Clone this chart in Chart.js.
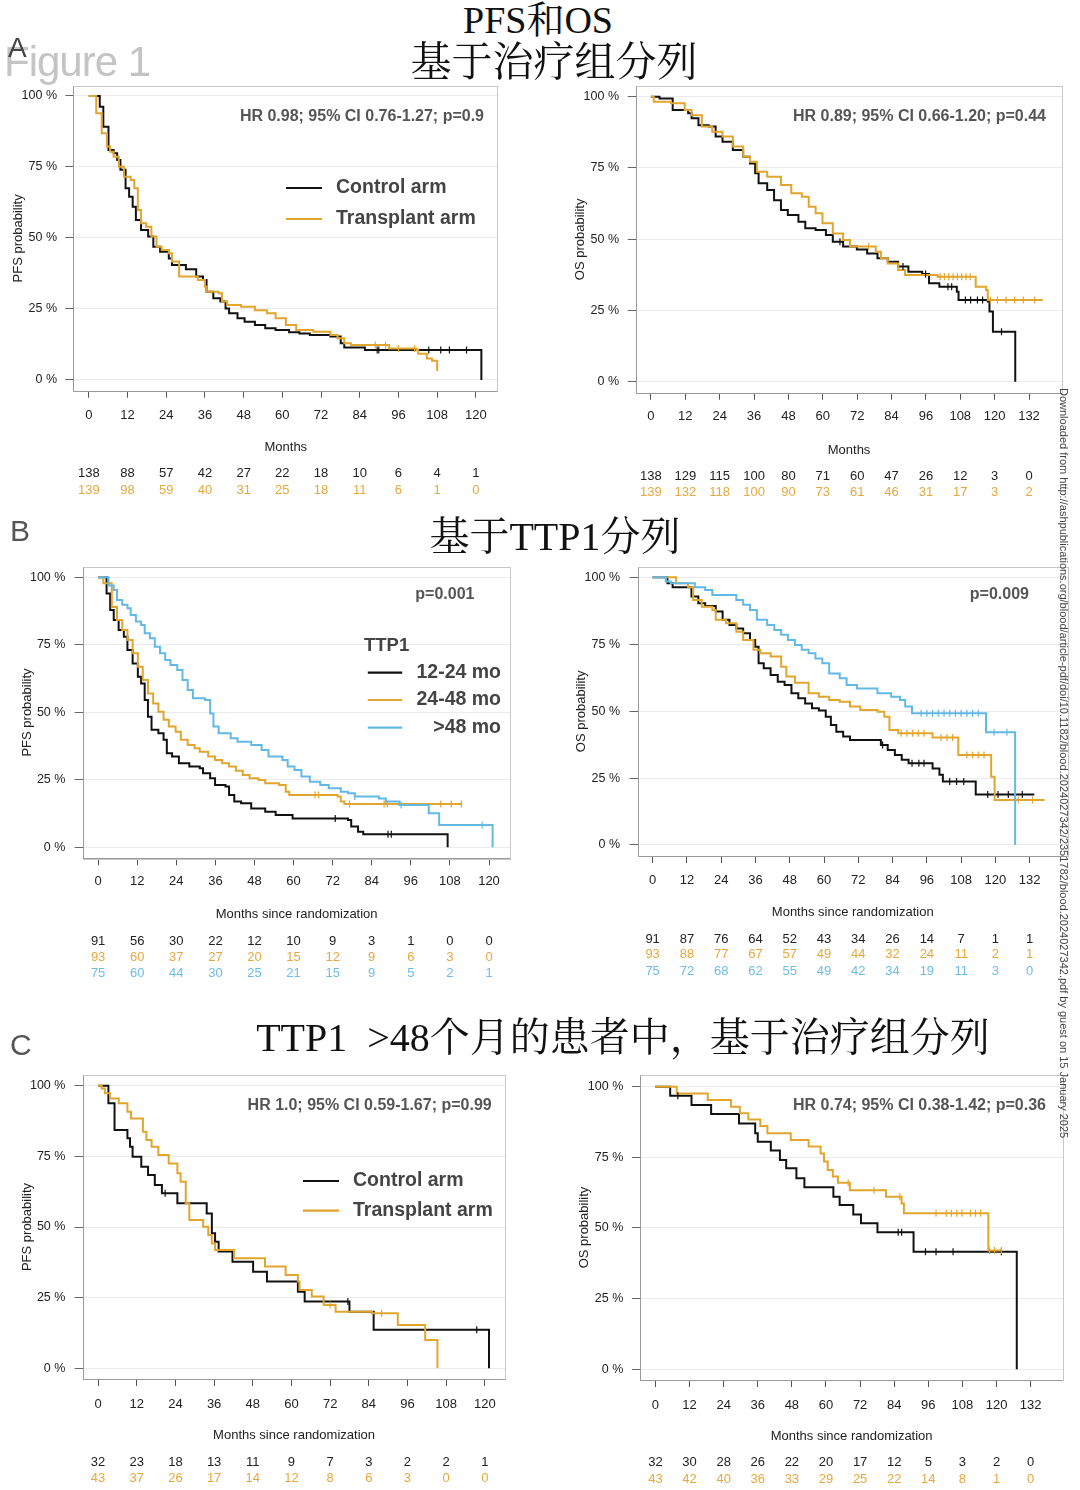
<!DOCTYPE html>
<html><head><meta charset="utf-8">
<script src="https://cdn.jsdelivr.net/npm/chart.js@4.4.1/dist/chart.umd.min.js"></script>
<style>
html,body{margin:0;padding:0;background:#fff;}
body{width:1080px;height:1490px;position:relative;overflow:hidden;font-family:"Liberation Sans",Arial,sans-serif;}
canvas{position:absolute;}
.t{position:absolute;white-space:nowrap;color:#111;line-height:1;transform:translate(-50%,-50%);font-family:"Liberation Serif","Noto Serif CJK SC","Noto Sans CJK SC",serif;z-index:5;}
.lab{position:absolute;white-space:nowrap;line-height:1;transform:translate(0,-50%);font-family:"Liberation Sans",Arial,sans-serif;z-index:5;}
#dl{position:absolute;left:1058px;top:388px;writing-mode:vertical-rl;font-size:11px;color:#444;white-space:nowrap;font-family:"Liberation Sans",Arial,sans-serif;z-index:6;}
</style></head><body>
<div class="lab" style="left:4px;top:61.5px;font-size:42px;color:#c4c4c4;letter-spacing:-1px;">Figure 1</div>
<div class="lab" style="left:8px;top:48px;font-size:28px;color:#444;">A</div>
<div class="lab" style="left:10px;top:531px;font-size:30px;color:#555;">B</div>
<div class="lab" style="left:10px;top:1045px;font-size:30px;color:#555;">C</div>
<div class="t" style="left:538px;top:20px;font-size:38px;">PFS和OS</div>
<div class="t" style="left:554px;top:62px;font-size:41px;">基于治疗组分列</div>
<div class="t" style="left:555px;top:537px;font-size:40px;">基于TTP1分列</div>
<div class="t" style="left:623px;top:1038px;font-size:40px;">TTP1&nbsp;&nbsp;&gt;48个月的患者中，基于治疗组分列</div>
<div id="dl">Downloaded from http://ashpublications.org/blood/article-pdf/doi/10.1182/blood.2024027342/2351782/blood.2024027342.pdf by guest on 15 January 2025</div>
<script>
// ---------- tick labels ----------
const X_TICKS_120 = [0,12,24,36,48,60,72,84,96,108,120];
const X_TICKS_132 = [0,12,24,36,48,60,72,84,96,108,120,132];
const Y_TICKS = [0,25,50,75,100];

// ---------- Panel A: PFS by arm ----------
const A_pfs_t_ctrl = [0,3.4,4.5,6.1,7.7,8.8,9.8,11.4,12.5,13.6,14.6,16.2,18.4,20,22.1,24.8,25.8,30.1,33.3,35.4,36.5,38.6,40.8,42.4,43.5,46.1,48.3,51.5,54.7,57.9,62.1,65.3,68.5,74.9,78.1,79.2,85.6,121.7];
const A_pfs_s_ctrl = [100,96.2,89.2,81,79.8,77.5,74,67.5,64.5,61,56.3,52.8,50.5,46.9,45.2,42.8,40.5,39,36.4,35.2,31.1,28.8,27.6,25.2,23.5,21.7,20.5,19.4,18.2,17.6,16.8,16.4,15.8,15.3,12.9,11.4,10.6,0];
const A_pfs_c_ctrl = [89.4,89.9,105.4,109.1,111.8,117.1];
const A_pfs_t_tx = [0,2.3,4,5.6,6.6,7.7,9.3,10.9,13,14.1,15.2,16.2,17.8,19.4,21,22.6,24.8,25.8,28,33.8,36,36.5,40.2,41.3,42.9,47.2,51.5,55.2,57.9,61.1,64.3,69.6,74.9,77.1,79.2,81.3,93.1,101.6,102.1,104.8,106.4,108,108.3];
const A_pfs_s_tx = [100,93.9,86.9,82.2,80.4,78.6,75.1,71.6,70.4,67.5,59.9,55.2,54,50.5,46.9,45.8,44.6,41.7,36.4,35.2,32.9,31.1,30.5,27.6,26.4,25.8,24.6,23.5,21.7,19.4,17.6,17,15.8,14.7,12.9,12.3,11.1,10.6,9.2,7.6,6.8,3.5,3.5];
const A_pfs_c_tx = [88.8,92,96,101];
const A_pfs_risk_ctrl = [138,88,57,42,27,22,18,10,6,4,1];
const A_pfs_risk_tx = [139,98,59,40,31,25,18,11,6,1,0];

// ---------- Panel A: OS by arm ----------
const A_os_t_ctrl = [0,3,7.6,13,14.2,16.6,20.2,22.6,25,28.6,32.2,34.6,36.4,37.6,40.6,43,45.4,47.8,51.5,53.9,57.5,61.1,63.5,67.1,71.9,75.5,79.1,82.7,86.3,89.9,94.7,97.1,100.7,106.8,107.4,117.6,118.2,119.4,127.2];
const A_os_s_ctrl = [100,99.4,95.3,94.2,92.4,90,89.5,86,84.2,81.3,78.9,76.6,73.1,69.6,67.3,63.7,60.2,58.5,56.1,53.8,53.2,51.5,49.1,47.4,46.4,45,43.3,42.1,40.4,38.6,37.8,34.5,33.3,31.6,28.7,28.1,24.6,17.5,0];
const A_os_c_ctrl = [66,88,95.9,103.7,105,109.8,111.6,114,115.8,122.4];
const A_os_t_tx = [0,1,7,11.8,14.2,17.8,21.4,25,28.6,32.2,34.6,37,40.6,45.4,49,52.7,55.1,57.5,59.9,63.5,67.1,69.5,78.5,80.3,82.7,86.3,88.7,100.1,113.4,117,117.6,136.8];
const A_os_s_tx = [100,98.2,97.7,95.3,93.5,89.5,87.7,86,82.5,78.9,77.2,73.7,71.9,69,66.1,64.9,61.4,59.1,55.6,52,49.7,47.4,45.6,43.3,41.5,39.2,37.4,36.8,33.3,32.2,28.7,28.7];
const A_os_c_tx = [76,101,102.5,104,105.5,107,108.5,110,111.5,118.5,121,124,127,130,134];
const A_os_risk_ctrl = [138,129,115,100,80,71,60,47,26,12,3,0];
const A_os_risk_tx = [139,132,118,100,90,73,61,46,31,17,3,2];

// ---------- Panel B: PFS by TTP1 ----------
const B_pfs_t_1224 = [0,2.6,3.7,4.8,6.3,7.9,9,10.6,12.2,13.2,14.3,15.3,16.4,18.5,20.1,21.1,22.7,24.8,28,31.2,32.2,34.4,35.9,39.1,40.2,41.8,43.9,47,51.3,54.5,59.7,76.7,77.7,79.8,81.4,107.3];
const B_pfs_s_1224 = [100,94,87.9,84.2,80.5,78,73.1,68.1,63.2,60.7,54.6,48.4,43.5,42.2,39.8,34.8,33.6,31.1,29.9,29.3,27.4,25.6,23.1,22.5,19.4,17,16.3,14.4,13.2,12,10.7,10.1,7.7,5.8,4.8,0];
const B_pfs_c_1224 = [72.8,89,90];
const B_pfs_t_2448 = [0,1.6,4.2,5.8,7.4,9,10.6,12.2,13.7,15.3,16.9,18.5,20.1,21.7,23.8,25.4,27.5,29.6,31.2,33.8,35.9,38.1,40.2,42.3,44.4,46.5,49.2,51.3,55.5,57.6,58.7,73.5,74.5,75.6,111.5];
const B_pfs_s_2448 = [100,97.8,89,84.2,80.5,76.8,71.9,66.9,62,57,53.3,50.2,47.2,44.7,42.8,39.8,37.9,36.7,35.4,33.6,32.3,31.1,29.9,28.4,26.8,25.6,24.9,23.7,23.1,20.6,19.4,18.8,17,16,16];
const B_pfs_c_2448 = [66.6,67.7,77.2,87.8,88.8,105.2,108.4,111.5];
const B_pfs_t_48 = [0,3.2,4.8,5.8,7.4,9,10,11.6,13.2,14.3,15.9,17.4,19,20.6,22.2,24.3,25.9,27.5,29.1,32.8,34.4,35.4,37,40.7,42.8,47,50.2,52.3,56.6,58.2,60.3,62.4,65,68.2,70.8,74.5,76.7,78.8,86.2,88.3,92.5,101.5,104.7,121.1];
const B_pfs_s_48 = [100,97,95.3,91.6,89.8,88.5,86,83.6,82.3,79.3,77.4,74.3,71.9,69.4,67.5,65.7,62,58.3,55.2,54.6,49.6,44.7,42.2,40.4,39.1,37.9,36,33.6,32.3,29.9,28.6,26.2,24.3,23.1,21.9,20.6,20,18.8,18.1,17,15.7,12.6,8.3,0];
const B_pfs_c_48 = [78.8,88.3,93,117.9];
const B_pfs_risk_1224 = [91,56,30,22,12,10,9,3,1,0,0];
const B_pfs_risk_2448 = [93,60,37,27,20,15,12,9,6,3,0];
const B_pfs_risk_48 = [75,60,44,30,25,21,15,9,5,2,1];

// ---------- Panel B: OS by TTP1 ----------
const B_os_t_1224 = [0,5.2,7,13.6,16,18.4,22.1,24.5,26.9,29.3,31.7,34.1,35.9,37.1,38.9,41.3,43.8,46.2,48.6,51,53.4,55.8,58.2,60.6,62.4,64.3,66.7,69.1,79.9,82.3,84.8,87.2,89.6,98,100.4,101.6,113.1,133.6];
const B_os_s_1224 = [100,97.8,96.3,92.8,90.3,89.3,87.2,84.1,82.2,80.9,79.1,76.6,74.1,67.9,66,63.5,61,59.8,56.7,54.8,52.9,51.1,50.2,47.9,44.8,42.3,40.5,39.2,37.4,35.5,33.6,31.8,30.5,28.6,26.2,23.7,18.9,18.9];
const B_os_c_1224 = [80.5,90.8,93.2,95,104,106.4,108.9,117.3,120.9,124.5,129.4];
const B_os_t_2448 = [0,8.2,12.4,14.2,17.2,20.9,22.1,25.7,29.3,31.7,35.3,37.7,41.3,45,46.8,49.8,54.6,58.2,61.8,65.5,69.1,72.7,78.7,81.1,82.9,86,98,107,118.5,119.7,137.2];
const B_os_s_2448 = [100,97.8,96.3,91.5,89,87.8,84.1,82.8,79.7,76.6,72.9,71.6,70.4,66.6,62.9,60.6,56.7,55.4,54.2,53.5,51.7,50.4,49.8,47.9,43,41.7,40.2,33.6,25.5,16.8,16.8];
const B_os_c_2448 = [87,89,91,93,95,101,103,105,110,112,114,116,128,133];
const B_os_t_48 = [0,4.6,6.4,14.8,18.4,20.9,29.3,31.7,34.1,36.5,40.1,42.6,45,47.4,49.8,52.2,54.6,57,59.4,61.8,65.5,67.9,71.5,78.7,83.5,86.6,88.4,90.8,116.7,126.9];
const B_os_s_48 = [100,98.4,97.8,96.3,95.3,93.4,91.5,89.7,87.8,84.1,82.2,80.3,78.5,76.6,74.7,72.9,71.6,69.7,67.9,64.1,62.3,59.8,58.5,56.7,55.4,54.2,51.7,49.2,42.1,0];
const B_os_c_48 = [94,96,98,100,102,104,106,108,110,112,114,119.5,124];
const B_os_risk_1224 = [91,87,76,64,52,43,34,26,14,7,1,1];
const B_os_risk_2448 = [93,88,77,67,57,49,44,32,24,11,2,1];
const B_os_risk_48 = [75,72,68,62,55,49,42,34,19,11,3,0];

// ---------- Panel C: TTP1 >48 mo, by arm ----------
const C_pfs_t_ctrl = [0,3.2,5.1,9.1,9.9,10.7,13.4,15.5,17.6,19.8,24.6,33.7,35.3,36.3,37.4,41.7,48.1,52.4,62,64.1,78,85.5,121.3];
const C_pfs_s_ctrl = [100,93.8,84.3,81.4,78.4,74.9,71.3,68.4,64.9,61.9,58.4,54.8,47.8,44.8,41.3,37.7,34.2,30.7,27.1,23.6,20,13.6,0];
const C_pfs_c_ctrl = [20.8,77.5,117.5];
const C_pfs_t_tx = [0,1.1,2.1,3.7,6.4,9.1,10.2,13.9,15,16.6,18.7,21.9,24.6,25.6,27.2,28.3,32.6,34.2,35.3,36.3,42.2,51.8,58.2,62,62.5,66.3,70,73.7,85,93,101.5,105.3];
const C_pfs_s_tx = [100,99,97.3,95.5,93.8,90.8,88.4,83.7,80.8,78.4,75.5,72.5,69,66,58.4,52.5,50.1,47.2,44.2,41.9,38.9,36,33,30.7,27.7,25.4,22.4,20,19.5,15.3,10,0];
const C_pfs_c_tx = [72,88];
const C_pfs_risk_ctrl = [32,23,18,13,11,9,7,3,2,2,1];
const C_pfs_risk_tx = [43,37,26,17,14,12,8,6,3,0,0];

const C_os_t_ctrl = [0,5.2,12.7,19.6,29.4,35.1,36,40.6,43.8,46,49.6,52.4,62.6,64.8,69.6,72.3,78.1,90.8,127.1];
const C_os_s_ctrl = [100,96.8,93.5,90.3,87,83.5,80.5,77.4,74.1,71.1,67.6,64.4,61.1,58.1,54.8,51.7,48.5,41.6,0];
const C_os_c_ctrl = [7.9,85.4,86.6,95,98.7,104.7,121.7];
const C_os_t_tx = [0,7.5,18.4,26.6,29.7,32.7,36.9,39.4,47.6,53.9,58.1,59.3,60.6,62.4,64.2,68.4,81.1,86.6,87.4,117.1,121.7];
const C_os_s_tx = [100,97.6,95.3,92.9,90.6,88.4,86.1,83.5,81.1,78.8,76.4,73.5,70.5,68.2,66,63.4,61.1,58.7,55.2,42,42];
const C_os_c_tx = [67.8,76.9,86,98.7,102.3,104.1,106,107.8,110.8,112.6,114.4,117.5,119.3,121.7];
const C_os_risk_ctrl = [32,30,28,26,22,20,17,12,5,3,2,0];
const C_os_risk_tx = [43,42,40,36,33,29,25,22,14,8,1,0];

// ---------- styling ----------
const BLACK = '#111111', ORANGE = '#E2A52E', BLUE = '#63B9E6';
const RISK_BLACK = '#222222', RISK_ORANGE = '#E6A83E', RISK_BLUE = '#6DBCE6';
const FONT = '"Liberation Sans", Arial, Helvetica, sans-serif';
Chart.defaults.font.family = FONT;
Chart.defaults.animation = false;

function stepAt(t, ts, ss) {
  let v = ss[0];
  for (let i = 0; i < ts.length; i++) { if (ts[i] <= t) v = ss[i]; else break; }
  return v;
}

function makeKM(p) {
  const cv = document.createElement('canvas');
  cv.width = p.cw; cv.height = p.ch;
  cv.style.left = p.cx + 'px'; cv.style.top = p.cy + 'px';
  cv.style.width = p.cw + 'px'; cv.style.height = p.ch + 'px';
  document.body.appendChild(cv);
  const f = p.frame;
  const xBottom = p.xTitleY + 7.8;
  const datasets = [];
  p.series.forEach(s => {
    if (s.c && s.c.length) {
      datasets.push({
        data: s.c.map(x => ({x: x, y: stepAt(x, s.t, s.s)})),
        showLine: false, pointStyle: 'line', pointRotation: 90, pointRadius: 3.5,
        pointBorderColor: s.color, pointBackgroundColor: s.color, pointBorderWidth: 1.2,
        pointHoverRadius: 0
      });
    }
  });
  p.series.forEach(s => {
    datasets.push({
      data: s.t.map((x, i) => ({x: x, y: s.s[i]})),
      showLine: true, stepped: 'before', borderColor: s.color, borderWidth: 2,
      pointRadius: 0, pointHoverRadius: 0, fill: false, tension: 0
    });
  });
  const plug = {
    id: 'km',
    beforeDatasetsDraw(chart) {
      const {ctx, chartArea: a} = chart;
      ctx.save();
      ctx.strokeStyle = '#c8c8c8'; ctx.lineWidth = 1;
      ctx.strokeRect(Math.round(a.left) + 0.5, Math.round(a.top) + 0.5, Math.round(a.right - a.left) - 1, Math.round(a.bottom - a.top));
      ctx.strokeStyle = '#9a9a9a';
      ctx.beginPath();
      ctx.moveTo(Math.round(a.left) + 0.5, Math.round(a.top) + 0.5);
      ctx.lineTo(Math.round(a.left) + 0.5, Math.round(a.bottom) + 0.5);
      ctx.lineTo(Math.round(a.right) - 0.5, Math.round(a.bottom) + 0.5);
      ctx.stroke();
      ctx.restore();
    },
    afterDraw(chart) {
      const ctx = chart.ctx, xs = chart.scales.x;
      ctx.save();
      ctx.textAlign = 'center'; ctx.textBaseline = 'middle';
      ctx.font = '13px ' + FONT;
      p.risk.forEach((r, j) => {
        ctx.fillStyle = r.color;
        r.vals.forEach((v, i) => {
          ctx.fillText(String(v), xs.getPixelForValue(p.xticks[i]), p.riskY[j] - p.cy);
        });
      });
      (p.lines || []).forEach(l => {
        ctx.strokeStyle = l.color; ctx.lineWidth = 2.2;
        ctx.beginPath(); ctx.moveTo(l.x1 - p.cx, l.y - p.cy); ctx.lineTo(l.x2 - p.cx, l.y - p.cy); ctx.stroke();
      });
      (p.texts || []).forEach(t => {
        ctx.font = t.font; ctx.fillStyle = t.color; ctx.textAlign = t.align;
        ctx.fillText(t.text, t.x - p.cx, t.y - p.cy);
      });
      ctx.restore();
    }
  };
  return new Chart(cv, {
    type: 'scatter',
    data: {datasets: datasets},
    options: {
      responsive: false, devicePixelRatio: 1, animation: false,
      layout: {padding: {left: 0, top: f.t - p.cy, right: p.cx + p.cw - f.r, bottom: p.cy + p.ch - xBottom}},
      plugins: {legend: {display: false}, tooltip: {enabled: false}},
      scales: {
        x: {
          type: 'linear', position: 'bottom', min: p.xmin, max: p.xmax, bounds: 'data',
          afterBuildTicks: sc => { sc.ticks = p.xticks.map(v => ({value: v})); },
          afterFit: sc => { sc.height = xBottom - f.b; },
          grid: {drawOnChartArea: false, drawTicks: true, tickLength: 7, tickColor: '#555', color: '#555', lineWidth: 1},
          border: {display: false},
          ticks: {autoSkip: false, maxRotation: 0, padding: p.labelY - f.b - 7 - 7.8, font: {size: 13}, color: '#222'},
          title: {display: true, text: p.xTitle, font: {size: 13}, color: '#222', padding: {top: 0, bottom: 0}}
        },
        y: {
          type: 'linear', position: 'left', min: p.ymin, max: p.ymax, bounds: 'data',
          afterBuildTicks: sc => { sc.ticks = Y_TICKS.map(v => ({value: v})); },
          afterFit: sc => { sc.width = f.l - p.cx; },
          grid: {color: '#ebebeb', tickColor: '#666', tickLength: 8, lineWidth: 1},
          border: {display: false},
          ticks: {padding: (f.l - p.yLabR) - 8, font: {size: 12.5}, color: '#222', callback: v => v + ' %'},
          title: {display: true, text: p.yTitle, font: {size: 13}, color: '#222', padding: {top: p.yTitleX - p.cx - 7.8, bottom: 0}}
        }
      }
    },
    plugins: [plug]
  });
}

const BOLD = s => 'bold ' + s + 'px ' + FONT;
const HRC = '#555555', LEGC = '#444444';

// A left: PFS
makeKM({
  cx: 0, cy: 64, cw: 540, ch: 436,
  frame: {l: 73.3, t: 86, r: 498.3, b: 390.7},
  xmin: -4.805, xmax: 126.95, ymin: -3.77, ymax: 103.52,
  xticks: X_TICKS_120, labelY: 415, xTitleY: 447, yLabR: 57, yTitleX: 18,
  xTitle: 'Months', yTitle: 'PFS probability',
  series: [
    {t: A_pfs_t_tx, s: A_pfs_s_tx, c: A_pfs_c_tx, color: ORANGE},
    {t: A_pfs_t_ctrl, s: A_pfs_s_ctrl, c: A_pfs_c_ctrl, color: BLACK}
  ],
  risk: [{vals: A_pfs_risk_ctrl, color: RISK_BLACK}, {vals: A_pfs_risk_tx, color: RISK_ORANGE}],
  riskY: [473, 490],
  lines: [{x1: 286, x2: 322, y: 188, color: BLACK}, {x1: 286, x2: 322, y: 219, color: ORANGE}],
  texts: [
    {text: 'HR 0.98; 95% CI 0.76-1.27; p=0.9', x: 484, y: 117, align: 'right', font: BOLD(16), color: HRC},
    {text: 'Control arm', x: 336, y: 188, align: 'left', font: BOLD(19.5), color: LEGC},
    {text: 'Transplant arm', x: 336, y: 219, align: 'left', font: BOLD(19.5), color: LEGC}
  ]
});

// A right: OS
makeKM({
  cx: 540, cy: 64, cw: 540, ch: 436,
  frame: {l: 635.7, t: 86, r: 1062.4, b: 392.7},
  xmin: -5.31, xmax: 143.66, ymin: -3.86, ymax: 103.75,
  xticks: X_TICKS_132, labelY: 416.7, xTitleY: 450, yLabR: 619, yTitleX: 580.6,
  xTitle: 'Months', yTitle: 'OS probability',
  series: [
    {t: A_os_t_tx, s: A_os_s_tx, c: A_os_c_tx, color: ORANGE},
    {t: A_os_t_ctrl, s: A_os_s_ctrl, c: A_os_c_ctrl, color: BLACK}
  ],
  risk: [{vals: A_os_risk_ctrl, color: RISK_BLACK}, {vals: A_os_risk_tx, color: RISK_ORANGE}],
  riskY: [476, 492],
  texts: [
    {text: 'HR 0.89; 95% CI 0.66-1.20; p=0.44', x: 1046, y: 116.7, align: 'right', font: BOLD(16), color: HRC}
  ]
});

// B left: PFS by TTP1
makeKM({
  cx: 0, cy: 544, cw: 540, ch: 446,
  frame: {l: 82.6, t: 566.7, r: 510.7, b: 858.3},
  xmin: -4.76, xmax: 126.66, ymin: -4.07, ymax: 103.93,
  xticks: X_TICKS_120, labelY: 881.7, xTitleY: 914.3, yLabR: 65.4, yTitleX: 27.5,
  xTitle: 'Months since randomization', yTitle: 'PFS probability',
  series: [
    {t: B_pfs_t_48, s: B_pfs_s_48, c: B_pfs_c_48, color: BLUE},
    {t: B_pfs_t_2448, s: B_pfs_s_2448, c: B_pfs_c_2448, color: ORANGE},
    {t: B_pfs_t_1224, s: B_pfs_s_1224, c: B_pfs_c_1224, color: BLACK}
  ],
  risk: [{vals: B_pfs_risk_1224, color: RISK_BLACK}, {vals: B_pfs_risk_2448, color: RISK_ORANGE}, {vals: B_pfs_risk_48, color: RISK_BLUE}],
  riskY: [941.7, 957.3, 973.3],
  lines: [{x1: 367.8, x2: 402.2, y: 672.7, color: BLACK}, {x1: 367.8, x2: 402.2, y: 700, color: ORANGE}, {x1: 367.8, x2: 402.2, y: 727.7, color: BLUE}],
  texts: [
    {text: 'p=0.001', x: 474.5, y: 594.3, align: 'right', font: BOLD(16), color: HRC},
    {text: 'TTP1', x: 364, y: 645.7, align: 'left', font: BOLD(18.5), color: LEGC},
    {text: '12-24 mo', x: 501, y: 672.7, align: 'right', font: BOLD(19.5), color: LEGC},
    {text: '24-48 mo', x: 501, y: 700, align: 'right', font: BOLD(19.5), color: LEGC},
    {text: '>48 mo', x: 501, y: 727.7, align: 'right', font: BOLD(19.5), color: LEGC}
  ]
});

// B right: OS by TTP1
makeKM({
  cx: 540, cy: 544, cw: 540, ch: 446,
  frame: {l: 637.5, t: 566.7, r: 1068, b: 856},
  xmin: -5.29, xmax: 145.4, ymin: -4.11, ymax: 103.96,
  xticks: X_TICKS_132, labelY: 880, xTitleY: 912.3, yLabR: 620, yTitleX: 581.3,
  xTitle: 'Months since randomization', yTitle: 'OS probability',
  series: [
    {t: B_os_t_48, s: B_os_s_48, c: B_os_c_48, color: BLUE},
    {t: B_os_t_2448, s: B_os_s_2448, c: B_os_c_2448, color: ORANGE},
    {t: B_os_t_1224, s: B_os_s_1224, c: B_os_c_1224, color: BLACK}
  ],
  risk: [{vals: B_os_risk_1224, color: RISK_BLACK}, {vals: B_os_risk_2448, color: RISK_ORANGE}, {vals: B_os_risk_48, color: RISK_BLUE}],
  riskY: [939.3, 954.3, 971],
  texts: [
    {text: 'p=0.009', x: 1029, y: 594.3, align: 'right', font: BOLD(16), color: HRC}
  ]
});

// C left: PFS, TTP1 >48
makeKM({
  cx: 0, cy: 1053, cw: 540, ch: 437,
  frame: {l: 82.6, t: 1075, r: 505.5, b: 1379},
  xmin: -4.81, xmax: 126.42, ymin: -3.79, ymax: 103.79,
  xticks: X_TICKS_120, labelY: 1404, xTitleY: 1435.7, yLabR: 65.4, yTitleX: 27.5,
  xTitle: 'Months since randomization', yTitle: 'PFS probability',
  series: [
    {t: C_pfs_t_tx, s: C_pfs_s_tx, c: C_pfs_c_tx, color: ORANGE},
    {t: C_pfs_t_ctrl, s: C_pfs_s_ctrl, c: C_pfs_c_ctrl, color: BLACK}
  ],
  risk: [{vals: C_pfs_risk_ctrl, color: RISK_BLACK}, {vals: C_pfs_risk_tx, color: RISK_ORANGE}],
  riskY: [1462.7, 1478.7],
  lines: [{x1: 303, x2: 339, y: 1181, color: BLACK}, {x1: 303, x2: 339, y: 1210.7, color: ORANGE}],
  texts: [
    {text: 'HR 1.0; 95% CI 0.59-1.67; p=0.99', x: 491.7, y: 1105.7, align: 'right', font: BOLD(16), color: HRC},
    {text: 'Control arm', x: 353, y: 1181, align: 'left', font: BOLD(19.5), color: LEGC},
    {text: 'Transplant arm', x: 353, y: 1210.7, align: 'left', font: BOLD(19.5), color: LEGC}
  ]
});

// C right: OS, TTP1 >48
makeKM({
  cx: 540, cy: 1053, cw: 540, ch: 437,
  frame: {l: 639.9, t: 1075, r: 1063.4, b: 1380},
  xmin: -5.45, xmax: 143.5, ymin: -3.79, ymax: 104.14,
  xticks: X_TICKS_132, labelY: 1405, xTitleY: 1436, yLabR: 623.3, yTitleX: 584.8,
  xTitle: 'Months since randomization', yTitle: 'OS probability',
  series: [
    {t: C_os_t_tx, s: C_os_s_tx, c: C_os_c_tx, color: ORANGE},
    {t: C_os_t_ctrl, s: C_os_s_ctrl, c: C_os_c_ctrl, color: BLACK}
  ],
  risk: [{vals: C_os_risk_ctrl, color: RISK_BLACK}, {vals: C_os_risk_tx, color: RISK_ORANGE}],
  riskY: [1462.7, 1479],
  texts: [
    {text: 'HR 0.74; 95% CI 0.38-1.42; p=0.36', x: 1046, y: 1105.7, align: 'right', font: BOLD(16), color: HRC}
  ]
});
</script>
</body></html>
